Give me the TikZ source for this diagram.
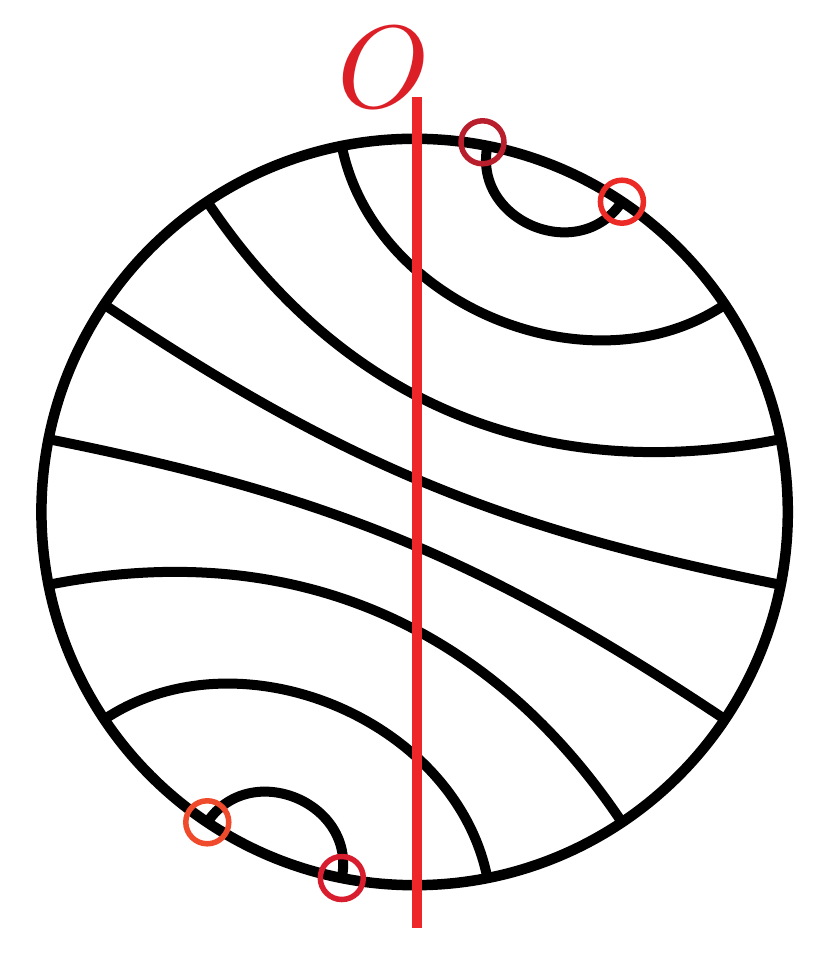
\documentclass[tikz,border=0pt]{standalone}
\usetikzlibrary{calc}
\definecolor{axisred}{HTML}{ED2629}
\definecolor{labelred}{HTML}{DC1F27}
\definecolor{darkred}{HTML}{B81E2B}
\definecolor{brightred}{HTML}{EC2B27}
\definecolor{orangered}{HTML}{EE4A2B}
\definecolor{midred}{HTML}{D81D2E}
\begin{document}
\begin{tikzpicture}[x=1pt,y=1pt,
  rim/.style={line width=10.5pt},
  chord/.style={line width=10pt},
  axis/.style={line width=10pt, draw=axisred},
  marker/.style={circle, draw, line width=5.5pt, minimum size=43pt, inner sep=0pt}]
\useasboundingbox (0,0) rectangle (830,968);
\coordinate (O) at (414.6,456);
\foreach \k in {0,...,15}{
  \pgfmathsetmacro\ang{11.25+22.5*\k}
  \coordinate (p\k) at ($(O)+(\ang:373.2)$);
}
\draw[rim] (O) circle[radius=373.2];
\draw[chord] (p4) to[out=281.25, in=213.75] (p1);
\draw[chord] (p5) to[out=303.75, in=191.25] (p0);
\draw[chord] (p6) to[out=326.25, in=168.75] (p15);
\draw[chord] (p7) to[out=348.75, in=146.25] (p14);
\draw[chord] (p8) to[out=11.25, in=123.75] (p13);
\draw[chord] (p9) to[out=33.75, in=101.25] (p12);
\draw[chord] (p3) to[out=258.75, in=236.25, looseness=1.35] (p2);
\draw[chord] (p11) to[out=78.75, in=56.25, looseness=1.35] (p10);
\coordinate (axtop) at (416.5,871);
\coordinate (axbot) at (416.5,40);
\draw[axis] (axtop) -- (axbot);
\node[marker, draw=darkred] (m1) at (482.5,825.7) {};
\node[marker, draw=brightred] (m2) at (p2) {};
\node[marker, draw=orangered] (m3) at (p10) {};
\node[marker, draw=midred] (m4) at (p11) {};
\node[text=labelred, inner sep=0pt, scale=11.7] (olabel) at (384,900.5) {$O$};
\end{tikzpicture}
\end{document}
